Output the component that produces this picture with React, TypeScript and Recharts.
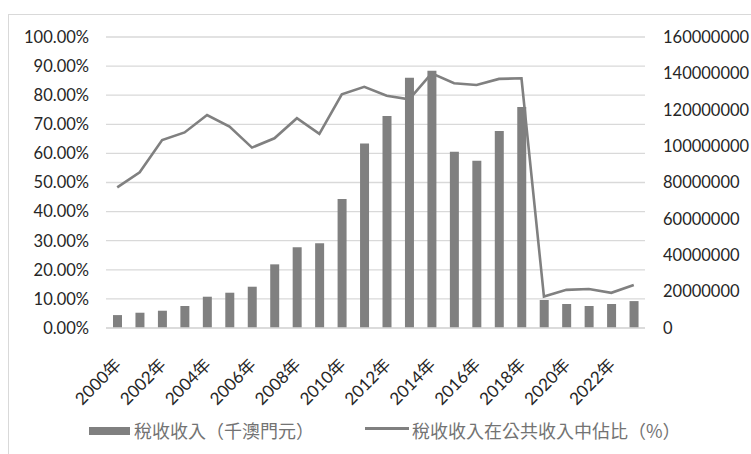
import React from 'react';
import {
  ComposedChart,
  Bar,
  Line,
  XAxis,
  YAxis,
  CartesianGrid,
  Legend,
} from 'recharts';

const years = [
  '2000年', '2001年', '2002年', '2003年', '2004年', '2005年', '2006年', '2007年',
  '2008年', '2009年', '2010年', '2011年', '2012年', '2013年', '2014年', '2015年',
  '2016年', '2017年', '2018年', '2019年', '2020年', '2021年', '2022年', '2023年',
];

// 稅收收入（千澳門元）
const taxRevenue = [
  7100000, 8400000, 9500000, 12100000, 17200000, 19400000, 22700000, 35000000,
  44400000, 46600000, 70900000, 101500000, 116500000, 137600000, 141500000, 96900000,
  92000000, 108300000, 121500000, 15400000, 13200000, 12100000, 13200000, 14800000,
];

// 稅收收入在公共收入中佔比（%）
const taxShare = [
  48.3, 53.5, 64.6, 67.2, 73.2, 69.2, 62.0, 65.2,
  72.1, 66.7, 80.3, 82.9, 79.8, 78.6, 87.5, 84.1,
  83.5, 85.6, 85.8, 10.8, 13.1, 13.4, 12.1, 14.8,
];

const leftTicks = [0, 10, 20, 30, 40, 50, 60, 70, 80, 90, 100];
const rightTicks = [0, 20000000, 40000000, 60000000, 80000000, 100000000, 120000000, 140000000, 160000000];

const barName = '稅收收入（千澳門元）';
const lineName = '稅收收入在公共收入中佔比（%）';

const data = years.map((year, i) => ({
  year,
  revenue: taxRevenue[i],
  share: taxShare[i],
}));

const GREY = '#808080';
const FONT = "Lato, 'Noto Sans CJK TC', sans-serif";

const XTick = ({ x, y, payload }: any) => (
  <g transform={`translate(${x + 5},${y + 30})`}>
    <text
      textAnchor="end"
      transform="rotate(-45)"
      fontSize={17}
      fontFamily={FONT}
      fill="#262626"
    >
      {payload.value}
    </text>
  </g>
);

const LegendBox = () => (
  <div style={{ position: 'relative', height: 40, width: 751, fontFamily: "'Noto Sans CJK TC', sans-serif", fontSize: 18, color: '#737373' }}>
    <div style={{ position: 'absolute', left: 89, top: 17, width: 41, height: 8, background: GREY }} />
    <span style={{ position: 'absolute', left: 134, top: 8, lineHeight: '24px', whiteSpace: 'nowrap' }}>{barName}</span>
    <div style={{ position: 'absolute', left: 365, top: 17, width: 44, height: 3, background: GREY }} />
    <span style={{ position: 'absolute', left: 412, top: 8, lineHeight: '24px', whiteSpace: 'nowrap' }}>{lineName}</span>
  </div>
);

export default function App() {
  return (
    <div style={{ position: 'absolute', left: 0, top: 0, width: 751, height: 454, background: '#fff', overflow: 'hidden' }}>
      <div style={{ position: 'absolute', left: 8, top: 14, width: 760, height: 460, borderLeft: '1px solid #d9d9d9', borderTop: '1px solid #d9d9d9' }} />
      <ComposedChart
        width={751}
        height={454}
        data={data}
        margin={{ top: 37, right: 0, left: 0, bottom: 0 }}
      >
        <CartesianGrid yAxisId="left" vertical={false} stroke="#d9d9d9" strokeWidth={1.3} />
        <XAxis
          dataKey="year"
          interval={1}
          height={86}
          tickLine={false}
          axisLine={{ stroke: '#d9d9d9', strokeWidth: 1.3 }}
          tick={<XTick />}
        />
        <YAxis
          yAxisId="left"
          orientation="left"
          width={106}
          domain={[0, 100]}
          ticks={leftTicks}
          tickFormatter={(v) => `${v.toFixed(2)}%`}
          axisLine={false}
          tickLine={false}
          tickMargin={11}
          tick={{ fontSize: 16.5, fontFamily: FONT, fill: '#262626' }}
        />
        <YAxis
          yAxisId="right"
          orientation="right"
          width={106}
          domain={[0, 160000000]}
          ticks={rightTicks}
          axisLine={false}
          tickLine={false}
          tickMargin={12}
          tick={{ fontSize: 16.5, fontFamily: FONT, fill: '#262626' }}
        />
        <Legend
          verticalAlign="bottom"
          content={<LegendBox />}
          wrapperStyle={{ position: 'absolute', top: 410, left: 0, width: 751, height: 40 }}
        />
        <Bar
          yAxisId="right"
          dataKey="revenue"
          name={barName}
          fill={GREY}
          barSize={9}
          isAnimationActive={false}
        />
        <Line
          yAxisId="left"
          type="linear"
          dataKey="share"
          name={lineName}
          stroke={GREY}
          strokeWidth={2.6}
          dot={false}
          activeDot={false}
          isAnimationActive={false}
        />
      </ComposedChart>
    </div>
  );
}
